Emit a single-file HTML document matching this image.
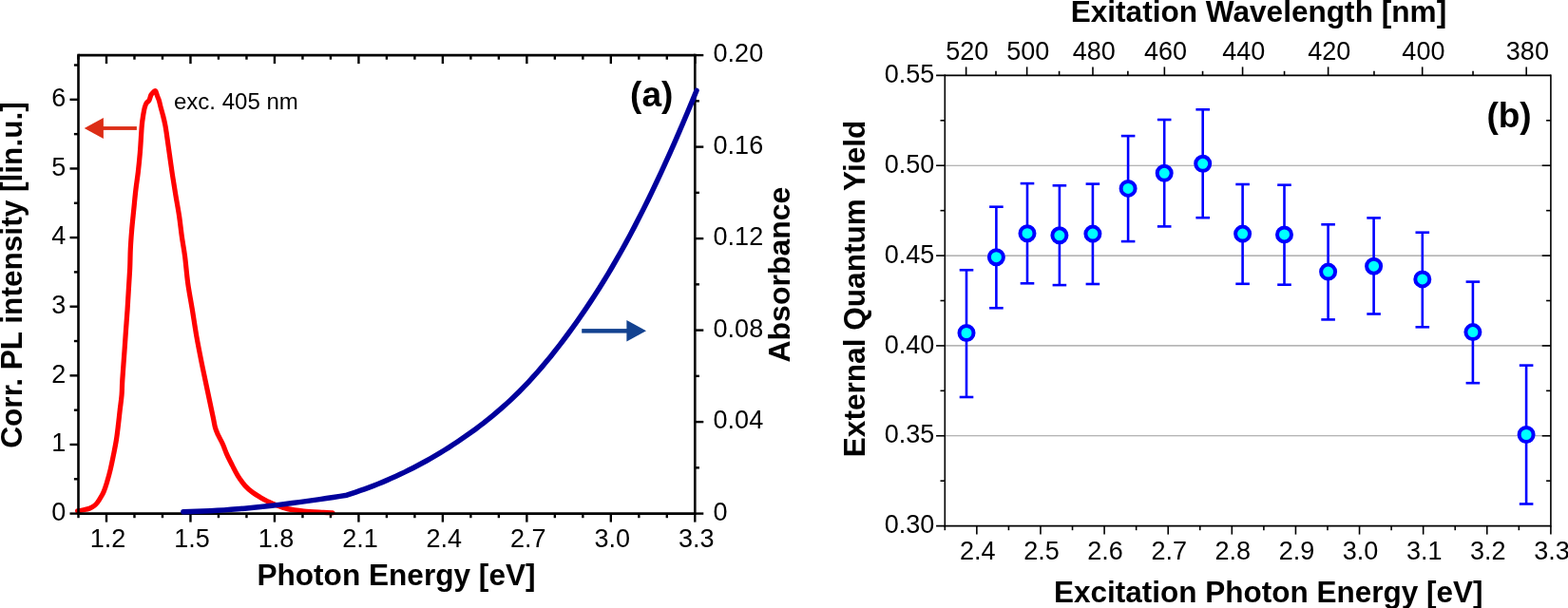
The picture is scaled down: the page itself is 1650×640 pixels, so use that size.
<!DOCTYPE html>
<html><head><meta charset="utf-8"><title>Figure</title>
<style>
html,body{margin:0;padding:0;background:#fff;width:1650px;height:640px;overflow:hidden}
svg{display:block}
text{font-family:"Liberation Sans", Arial, sans-serif;fill:#000}
</style></head><body>
<svg width="1650" height="640" viewBox="0 0 1650 640">
<rect width="1650" height="640" fill="#fff"/>
<path d="M81.6 537.9C82.63 537.72 85.72 537.25 87.8 536.8C89.88 536.35 92.23 535.92 94.1 535.2C95.97 534.48 97.6 533.53 99 532.5C100.4 531.47 101.33 530.5 102.5 529C103.67 527.5 104.87 525.47 106 523.5C107.13 521.53 108.2 519.87 109.3 517.2C110.4 514.53 111.43 511.41 112.6 507.5C113.77 503.59 115.13 498.65 116.3 493.75C117.47 488.85 118.57 483.31 119.6 478.1C120.63 472.89 121.68 467.7 122.5 462.5C123.32 457.3 123.88 452.11 124.5 446.9C125.12 441.69 125.65 436.47 126.25 431.25C126.85 426.03 127.67 420.81 128.1 415.6C128.53 410.39 128.32 407.7 128.8 400C129.28 392.3 130.38 378.15 131 369.4C131.62 360.65 131.98 354.8 132.5 347.5C133.02 340.2 133.62 332.89 134.1 325.6C134.58 318.31 134.97 311.03 135.4 303.75C135.83 296.47 136.38 288.86 136.7 281.9C137.02 274.94 136.97 268.72 137.3 262C137.63 255.28 138.13 248.39 138.7 241.6C139.27 234.81 140.02 228.03 140.7 221.25C141.38 214.47 141.97 207.68 142.75 200.9C143.53 194.12 144.62 187.37 145.4 180.6C146.18 173.83 146.87 166.73 147.4 160.3C147.93 153.87 148.28 146.73 148.6 142C148.92 137.27 148.98 135.15 149.3 131.9C149.62 128.65 150 125.63 150.5 122.5C151 119.37 151.68 115.45 152.3 113.1C152.92 110.75 153.42 109.65 154.2 108.4C154.98 107.15 156.22 107 157 105.6C157.78 104.2 158.19 101.4 158.9 100C159.61 98.6 160.47 97.9 161.25 97.2C162.03 96.5 162.89 95.18 163.6 95.8C164.31 96.42 164.88 99.27 165.5 100.9C166.12 102.53 166.68 103.57 167.3 105.6C167.92 107.63 168.46 110.28 169.2 113.1C169.94 115.92 170.97 119.37 171.75 122.5C172.53 125.63 173.33 128.98 173.9 131.9C174.47 134.82 174.47 135 175.2 140C175.93 145 177.27 154.61 178.3 161.9C179.33 169.19 180.3 176.47 181.4 183.75C182.5 191.03 183.7 198.31 184.9 205.6C186.1 212.89 187.52 220.2 188.6 227.5C189.68 234.8 190.4 242.32 191.4 249.4C192.4 256.48 193.55 261.88 194.6 270C195.65 278.12 196.4 288.73 197.7 298.1C199 307.48 200.87 316.87 202.4 326.25C203.93 335.63 205.25 345.02 206.9 354.4C208.55 363.77 210.42 373.13 212.3 382.5C214.18 391.87 216.22 401.18 218.2 410.6C220.18 420.02 222.8 432.35 224.2 439C225.6 445.65 225.7 447.33 226.6 450.5C227.5 453.67 228.3 455.17 229.6 458C230.9 460.83 232.88 464.1 234.4 467.5C235.93 470.9 237.12 474.75 238.75 478.4C240.38 482.05 242.27 485.67 244.2 489.4C246.12 493.13 247.98 497.12 250.3 500.8C252.62 504.48 255.5 508.57 258.1 511.5C260.7 514.43 263.29 516.42 265.9 518.4C268.51 520.38 271.13 521.85 273.75 523.4C276.37 524.95 278.99 526.39 281.6 527.7C284.21 529.01 285.92 529.93 289.4 531.25C292.88 532.57 297.45 534.48 302.5 535.6C307.55 536.73 313.4 537.38 319.7 538C326 538.62 335.25 539 340.3 539.3C345.35 539.6 348.38 539.72 350 539.8" fill="none" stroke="#ff0000" stroke-width="5.2" stroke-linejoin="round" stroke-linecap="round"/>
<line x1="82.5" y1="58.1" x2="731.3" y2="58.1" stroke="#000" stroke-width="2.6" stroke-linecap="butt"/>
<line x1="82.5" y1="540.6" x2="731.3" y2="540.6" stroke="#000" stroke-width="2.6" stroke-linecap="butt"/>
<line x1="82.5" y1="56.8" x2="82.5" y2="541.9" stroke="#000" stroke-width="2.6" stroke-linecap="butt"/>
<line x1="731.3" y1="56.8" x2="731.3" y2="541.9" stroke="#000" stroke-width="2.6" stroke-linecap="butt"/>
<line x1="82.5" y1="540.6" x2="82.5" y2="545.2" stroke="#000" stroke-width="2.4" stroke-linecap="butt"/>
<line x1="82.5" y1="58.1" x2="82.5" y2="62.7" stroke="#000" stroke-width="2.4" stroke-linecap="butt"/>
<line x1="111.99" y1="540.6" x2="111.99" y2="549.6" stroke="#000" stroke-width="2.4" stroke-linecap="butt"/>
<line x1="111.99" y1="58.1" x2="111.99" y2="67.1" stroke="#000" stroke-width="2.4" stroke-linecap="butt"/>
<line x1="141.48" y1="540.6" x2="141.48" y2="545.2" stroke="#000" stroke-width="2.4" stroke-linecap="butt"/>
<line x1="141.48" y1="58.1" x2="141.48" y2="62.7" stroke="#000" stroke-width="2.4" stroke-linecap="butt"/>
<line x1="170.97" y1="540.6" x2="170.97" y2="545.2" stroke="#000" stroke-width="2.4" stroke-linecap="butt"/>
<line x1="170.97" y1="58.1" x2="170.97" y2="62.7" stroke="#000" stroke-width="2.4" stroke-linecap="butt"/>
<line x1="200.46" y1="540.6" x2="200.46" y2="549.6" stroke="#000" stroke-width="2.4" stroke-linecap="butt"/>
<line x1="200.46" y1="58.1" x2="200.46" y2="67.1" stroke="#000" stroke-width="2.4" stroke-linecap="butt"/>
<line x1="229.95" y1="540.6" x2="229.95" y2="545.2" stroke="#000" stroke-width="2.4" stroke-linecap="butt"/>
<line x1="229.95" y1="58.1" x2="229.95" y2="62.7" stroke="#000" stroke-width="2.4" stroke-linecap="butt"/>
<line x1="259.45" y1="540.6" x2="259.45" y2="545.2" stroke="#000" stroke-width="2.4" stroke-linecap="butt"/>
<line x1="259.45" y1="58.1" x2="259.45" y2="62.7" stroke="#000" stroke-width="2.4" stroke-linecap="butt"/>
<line x1="288.94" y1="540.6" x2="288.94" y2="549.6" stroke="#000" stroke-width="2.4" stroke-linecap="butt"/>
<line x1="288.94" y1="58.1" x2="288.94" y2="67.1" stroke="#000" stroke-width="2.4" stroke-linecap="butt"/>
<line x1="318.43" y1="540.6" x2="318.43" y2="545.2" stroke="#000" stroke-width="2.4" stroke-linecap="butt"/>
<line x1="318.43" y1="58.1" x2="318.43" y2="62.7" stroke="#000" stroke-width="2.4" stroke-linecap="butt"/>
<line x1="347.92" y1="540.6" x2="347.92" y2="545.2" stroke="#000" stroke-width="2.4" stroke-linecap="butt"/>
<line x1="347.92" y1="58.1" x2="347.92" y2="62.7" stroke="#000" stroke-width="2.4" stroke-linecap="butt"/>
<line x1="377.41" y1="540.6" x2="377.41" y2="549.6" stroke="#000" stroke-width="2.4" stroke-linecap="butt"/>
<line x1="377.41" y1="58.1" x2="377.41" y2="67.1" stroke="#000" stroke-width="2.4" stroke-linecap="butt"/>
<line x1="406.9" y1="540.6" x2="406.9" y2="545.2" stroke="#000" stroke-width="2.4" stroke-linecap="butt"/>
<line x1="406.9" y1="58.1" x2="406.9" y2="62.7" stroke="#000" stroke-width="2.4" stroke-linecap="butt"/>
<line x1="436.39" y1="540.6" x2="436.39" y2="545.2" stroke="#000" stroke-width="2.4" stroke-linecap="butt"/>
<line x1="436.39" y1="58.1" x2="436.39" y2="62.7" stroke="#000" stroke-width="2.4" stroke-linecap="butt"/>
<line x1="465.88" y1="540.6" x2="465.88" y2="549.6" stroke="#000" stroke-width="2.4" stroke-linecap="butt"/>
<line x1="465.88" y1="58.1" x2="465.88" y2="67.1" stroke="#000" stroke-width="2.4" stroke-linecap="butt"/>
<line x1="495.37" y1="540.6" x2="495.37" y2="545.2" stroke="#000" stroke-width="2.4" stroke-linecap="butt"/>
<line x1="495.37" y1="58.1" x2="495.37" y2="62.7" stroke="#000" stroke-width="2.4" stroke-linecap="butt"/>
<line x1="524.86" y1="540.6" x2="524.86" y2="545.2" stroke="#000" stroke-width="2.4" stroke-linecap="butt"/>
<line x1="524.86" y1="58.1" x2="524.86" y2="62.7" stroke="#000" stroke-width="2.4" stroke-linecap="butt"/>
<line x1="554.35" y1="540.6" x2="554.35" y2="549.6" stroke="#000" stroke-width="2.4" stroke-linecap="butt"/>
<line x1="554.35" y1="58.1" x2="554.35" y2="67.1" stroke="#000" stroke-width="2.4" stroke-linecap="butt"/>
<line x1="583.85" y1="540.6" x2="583.85" y2="545.2" stroke="#000" stroke-width="2.4" stroke-linecap="butt"/>
<line x1="583.85" y1="58.1" x2="583.85" y2="62.7" stroke="#000" stroke-width="2.4" stroke-linecap="butt"/>
<line x1="613.34" y1="540.6" x2="613.34" y2="545.2" stroke="#000" stroke-width="2.4" stroke-linecap="butt"/>
<line x1="613.34" y1="58.1" x2="613.34" y2="62.7" stroke="#000" stroke-width="2.4" stroke-linecap="butt"/>
<line x1="642.83" y1="540.6" x2="642.83" y2="549.6" stroke="#000" stroke-width="2.4" stroke-linecap="butt"/>
<line x1="642.83" y1="58.1" x2="642.83" y2="67.1" stroke="#000" stroke-width="2.4" stroke-linecap="butt"/>
<line x1="672.32" y1="540.6" x2="672.32" y2="545.2" stroke="#000" stroke-width="2.4" stroke-linecap="butt"/>
<line x1="672.32" y1="58.1" x2="672.32" y2="62.7" stroke="#000" stroke-width="2.4" stroke-linecap="butt"/>
<line x1="701.81" y1="540.6" x2="701.81" y2="545.2" stroke="#000" stroke-width="2.4" stroke-linecap="butt"/>
<line x1="701.81" y1="58.1" x2="701.81" y2="62.7" stroke="#000" stroke-width="2.4" stroke-linecap="butt"/>
<line x1="731.3" y1="540.6" x2="731.3" y2="549.6" stroke="#000" stroke-width="2.4" stroke-linecap="butt"/>
<line x1="731.3" y1="58.1" x2="731.3" y2="67.1" stroke="#000" stroke-width="2.4" stroke-linecap="butt"/>
<line x1="73.5" y1="540.6" x2="82.5" y2="540.6" stroke="#000" stroke-width="2.4" stroke-linecap="butt"/>
<line x1="77.9" y1="504.29" x2="82.5" y2="504.29" stroke="#000" stroke-width="2.4" stroke-linecap="butt"/>
<line x1="73.5" y1="467.97" x2="82.5" y2="467.97" stroke="#000" stroke-width="2.4" stroke-linecap="butt"/>
<line x1="77.9" y1="431.66" x2="82.5" y2="431.66" stroke="#000" stroke-width="2.4" stroke-linecap="butt"/>
<line x1="73.5" y1="395.34" x2="82.5" y2="395.34" stroke="#000" stroke-width="2.4" stroke-linecap="butt"/>
<line x1="77.9" y1="359.03" x2="82.5" y2="359.03" stroke="#000" stroke-width="2.4" stroke-linecap="butt"/>
<line x1="73.5" y1="322.71" x2="82.5" y2="322.71" stroke="#000" stroke-width="2.4" stroke-linecap="butt"/>
<line x1="77.9" y1="286.4" x2="82.5" y2="286.4" stroke="#000" stroke-width="2.4" stroke-linecap="butt"/>
<line x1="73.5" y1="250.08" x2="82.5" y2="250.08" stroke="#000" stroke-width="2.4" stroke-linecap="butt"/>
<line x1="77.9" y1="213.77" x2="82.5" y2="213.77" stroke="#000" stroke-width="2.4" stroke-linecap="butt"/>
<line x1="73.5" y1="177.45" x2="82.5" y2="177.45" stroke="#000" stroke-width="2.4" stroke-linecap="butt"/>
<line x1="77.9" y1="141.14" x2="82.5" y2="141.14" stroke="#000" stroke-width="2.4" stroke-linecap="butt"/>
<line x1="73.5" y1="104.82" x2="82.5" y2="104.82" stroke="#000" stroke-width="2.4" stroke-linecap="butt"/>
<line x1="77.9" y1="68.51" x2="82.5" y2="68.51" stroke="#000" stroke-width="2.4" stroke-linecap="butt"/>
<line x1="731.3" y1="540.6" x2="740.3" y2="540.6" stroke="#000" stroke-width="2.4" stroke-linecap="butt"/>
<line x1="731.3" y1="492.35" x2="735.9" y2="492.35" stroke="#000" stroke-width="2.4" stroke-linecap="butt"/>
<line x1="731.3" y1="444.1" x2="740.3" y2="444.1" stroke="#000" stroke-width="2.4" stroke-linecap="butt"/>
<line x1="731.3" y1="395.85" x2="735.9" y2="395.85" stroke="#000" stroke-width="2.4" stroke-linecap="butt"/>
<line x1="731.3" y1="347.6" x2="740.3" y2="347.6" stroke="#000" stroke-width="2.4" stroke-linecap="butt"/>
<line x1="731.3" y1="299.35" x2="735.9" y2="299.35" stroke="#000" stroke-width="2.4" stroke-linecap="butt"/>
<line x1="731.3" y1="251.1" x2="740.3" y2="251.1" stroke="#000" stroke-width="2.4" stroke-linecap="butt"/>
<line x1="731.3" y1="202.85" x2="735.9" y2="202.85" stroke="#000" stroke-width="2.4" stroke-linecap="butt"/>
<line x1="731.3" y1="154.6" x2="740.3" y2="154.6" stroke="#000" stroke-width="2.4" stroke-linecap="butt"/>
<line x1="731.3" y1="106.35" x2="735.9" y2="106.35" stroke="#000" stroke-width="2.4" stroke-linecap="butt"/>
<line x1="731.3" y1="58.1" x2="740.3" y2="58.1" stroke="#000" stroke-width="2.4" stroke-linecap="butt"/>
<path d="M192.9 538.7L200.07 538.56L207.24 538.34L214.41 538.07L221.58 537.73L228.75 537.33L235.93 536.87L243.1 536.36L250.27 535.79L257.44 535.17L264.61 534.5L271.78 533.79L278.95 533.03L286.12 532.22L293.29 531.38L300.46 530.5L307.63 529.58L314.8 528.63L321.98 527.65L329.15 526.64L336.32 525.6L343.49 524.54L350.66 523.45L357.83 522.35L365 521.22L369.66 519.6L374.32 518.07L378.97 516.47L383.63 514.82L388.29 513.1L392.95 511.33L397.61 509.49L402.27 507.59L406.92 505.62L411.58 503.59L416.24 501.5L420.9 499.34L425.56 497.12L430.22 494.82L434.87 492.46L439.53 490.04L444.19 487.54L448.85 484.97L453.51 482.33L458.16 479.62L462.82 476.84L467.48 473.99L472.14 471.06L476.8 468.06L481.46 464.99L486.11 461.84L490.77 458.61L495.43 455.3L500.09 451.91L504.75 448.42L509.41 444.84L514.06 441.15L518.72 437.36L523.38 433.45L528.04 429.41L532.7 425.25L537.35 420.96L542.01 416.52L546.67 411.93L551.33 407.18L555.99 402.27L560.65 397.2L565.3 391.98L569.96 386.6L574.62 381.07L579.28 375.39L583.94 369.57L588.59 363.6L593.25 357.5L597.91 351.25L602.57 344.86L607.23 338.34L611.89 331.67L616.54 324.85L621.2 317.87L625.86 310.74L630.52 303.44L635.18 295.97L639.84 288.32L644.49 280.49L649.15 272.47L653.81 264.25L658.47 255.83L663.13 247.2L667.78 238.38L672.44 229.35L677.1 220.12L681.76 210.7L686.42 201.1L691.08 191.3L695.73 181.32L700.39 171.16L705.05 160.82L709.71 150.31L714.37 139.63L719.03 128.77L723.68 117.75L728.34 106.57L733 95.23" fill="none" stroke="#00009c" stroke-width="5.5" stroke-linejoin="round" stroke-linecap="round"/>
<polygon points="88.7,135 108.9,123.9 108.9,146.1" fill="#dc2d16"/>
<rect x="108" y="133.1" width="35.9" height="3.8" fill="#dc2d16"/>
<polygon points="680,348.3 659.4,337 659.4,359.6" fill="#134290"/>
<rect x="612.2" y="346.1" width="48" height="4.5" fill="#134290"/>
<text x="69.4" y="548" font-size="27" text-anchor="end">0</text>
<text x="69.4" y="475.37" font-size="27" text-anchor="end">1</text>
<text x="69.4" y="402.74" font-size="27" text-anchor="end">2</text>
<text x="69.4" y="330.11" font-size="27" text-anchor="end">3</text>
<text x="69.4" y="257.48" font-size="27" text-anchor="end">4</text>
<text x="69.4" y="184.85" font-size="27" text-anchor="end">5</text>
<text x="69.4" y="112.22" font-size="27" text-anchor="end">6</text>
<text x="113.49" y="576" font-size="27" text-anchor="middle">1.2</text>
<text x="201.96" y="576" font-size="27" text-anchor="middle">1.5</text>
<text x="290.44" y="576" font-size="27" text-anchor="middle">1.8</text>
<text x="378.91" y="576" font-size="27" text-anchor="middle">2.1</text>
<text x="467.38" y="576" font-size="27" text-anchor="middle">2.4</text>
<text x="555.85" y="576" font-size="27" text-anchor="middle">2.7</text>
<text x="644.33" y="576" font-size="27" text-anchor="middle">3.0</text>
<text x="732.8" y="576" font-size="27" text-anchor="middle">3.3</text>
<text x="750.6" y="547.7" font-size="27" text-anchor="start">0</text>
<text x="750.6" y="451.2" font-size="27" text-anchor="start">0.04</text>
<text x="750.6" y="354.7" font-size="27" text-anchor="start">0.08</text>
<text x="750.6" y="258.2" font-size="27" text-anchor="start">0.12</text>
<text x="750.6" y="161.7" font-size="27" text-anchor="start">0.16</text>
<text x="750.6" y="65.2" font-size="27" text-anchor="start">0.20</text>
<text x="417" y="616.1" font-size="31.6" text-anchor="middle" font-weight="bold">Photon Energy [eV]</text>
<text x="23.4" y="289.5" font-size="31.6" text-anchor="middle" font-weight="bold" transform="rotate(-90 23.4 289.5)">Corr. PL intensity [lin.u.]</text>
<text x="831.5" y="289.1" font-size="32" text-anchor="middle" font-weight="bold" transform="rotate(-90 831.5 289.1)">Absorbance</text>
<text x="685.7" y="112" font-size="37" text-anchor="middle" font-weight="bold">(a)</text>
<text x="183" y="114.5" font-size="24" text-anchor="start">exc. 405 nm</text>
<line x1="994.3" y1="458.76" x2="1631.9" y2="458.76" stroke="#9c9c9c" stroke-width="1.2" stroke-linecap="butt"/>
<line x1="994.3" y1="363.92" x2="1631.9" y2="363.92" stroke="#9c9c9c" stroke-width="1.2" stroke-linecap="butt"/>
<line x1="994.3" y1="269.08" x2="1631.9" y2="269.08" stroke="#9c9c9c" stroke-width="1.2" stroke-linecap="butt"/>
<line x1="994.3" y1="174.24" x2="1631.9" y2="174.24" stroke="#9c9c9c" stroke-width="1.2" stroke-linecap="butt"/>
<line x1="985.1" y1="79.4" x2="1631.9" y2="79.4" stroke="#000" stroke-width="1.6" stroke-linecap="butt"/>
<line x1="985.1" y1="553.6" x2="1631.9" y2="553.6" stroke="#000" stroke-width="1.6" stroke-linecap="butt"/>
<line x1="994.3" y1="78.6" x2="994.3" y2="554.4" stroke="#000" stroke-width="1.6" stroke-linecap="butt"/>
<line x1="1631.9" y1="78.6" x2="1631.9" y2="554.4" stroke="#000" stroke-width="1.6" stroke-linecap="butt"/>
<line x1="994.3" y1="553.6" x2="994.3" y2="558.2" stroke="#000" stroke-width="1.6" stroke-linecap="butt"/>
<line x1="1027.86" y1="553.6" x2="1027.86" y2="562.6" stroke="#000" stroke-width="1.6" stroke-linecap="butt"/>
<line x1="1061.42" y1="553.6" x2="1061.42" y2="558.2" stroke="#000" stroke-width="1.6" stroke-linecap="butt"/>
<line x1="1094.97" y1="553.6" x2="1094.97" y2="562.6" stroke="#000" stroke-width="1.6" stroke-linecap="butt"/>
<line x1="1128.53" y1="553.6" x2="1128.53" y2="558.2" stroke="#000" stroke-width="1.6" stroke-linecap="butt"/>
<line x1="1162.09" y1="553.6" x2="1162.09" y2="562.6" stroke="#000" stroke-width="1.6" stroke-linecap="butt"/>
<line x1="1195.65" y1="553.6" x2="1195.65" y2="558.2" stroke="#000" stroke-width="1.6" stroke-linecap="butt"/>
<line x1="1229.21" y1="553.6" x2="1229.21" y2="562.6" stroke="#000" stroke-width="1.6" stroke-linecap="butt"/>
<line x1="1262.76" y1="553.6" x2="1262.76" y2="558.2" stroke="#000" stroke-width="1.6" stroke-linecap="butt"/>
<line x1="1296.32" y1="553.6" x2="1296.32" y2="562.6" stroke="#000" stroke-width="1.6" stroke-linecap="butt"/>
<line x1="1329.88" y1="553.6" x2="1329.88" y2="558.2" stroke="#000" stroke-width="1.6" stroke-linecap="butt"/>
<line x1="1363.44" y1="553.6" x2="1363.44" y2="562.6" stroke="#000" stroke-width="1.6" stroke-linecap="butt"/>
<line x1="1396.99" y1="553.6" x2="1396.99" y2="558.2" stroke="#000" stroke-width="1.6" stroke-linecap="butt"/>
<line x1="1430.55" y1="553.6" x2="1430.55" y2="562.6" stroke="#000" stroke-width="1.6" stroke-linecap="butt"/>
<line x1="1464.11" y1="553.6" x2="1464.11" y2="558.2" stroke="#000" stroke-width="1.6" stroke-linecap="butt"/>
<line x1="1497.67" y1="553.6" x2="1497.67" y2="562.6" stroke="#000" stroke-width="1.6" stroke-linecap="butt"/>
<line x1="1531.23" y1="553.6" x2="1531.23" y2="558.2" stroke="#000" stroke-width="1.6" stroke-linecap="butt"/>
<line x1="1564.78" y1="553.6" x2="1564.78" y2="562.6" stroke="#000" stroke-width="1.6" stroke-linecap="butt"/>
<line x1="1598.34" y1="553.6" x2="1598.34" y2="558.2" stroke="#000" stroke-width="1.6" stroke-linecap="butt"/>
<line x1="1631.9" y1="553.6" x2="1631.9" y2="562.6" stroke="#000" stroke-width="1.6" stroke-linecap="butt"/>
<line x1="989.5" y1="506.18" x2="994.3" y2="506.18" stroke="#000" stroke-width="1.6" stroke-linecap="butt"/>
<line x1="1627.1" y1="506.18" x2="1631.9" y2="506.18" stroke="#000" stroke-width="1.6" stroke-linecap="butt"/>
<line x1="985.1" y1="458.76" x2="994.3" y2="458.76" stroke="#000" stroke-width="1.6" stroke-linecap="butt"/>
<line x1="1622.7" y1="458.76" x2="1631.9" y2="458.76" stroke="#000" stroke-width="1.6" stroke-linecap="butt"/>
<line x1="989.5" y1="411.34" x2="994.3" y2="411.34" stroke="#000" stroke-width="1.6" stroke-linecap="butt"/>
<line x1="1627.1" y1="411.34" x2="1631.9" y2="411.34" stroke="#000" stroke-width="1.6" stroke-linecap="butt"/>
<line x1="985.1" y1="363.92" x2="994.3" y2="363.92" stroke="#000" stroke-width="1.6" stroke-linecap="butt"/>
<line x1="1622.7" y1="363.92" x2="1631.9" y2="363.92" stroke="#000" stroke-width="1.6" stroke-linecap="butt"/>
<line x1="989.5" y1="316.5" x2="994.3" y2="316.5" stroke="#000" stroke-width="1.6" stroke-linecap="butt"/>
<line x1="1627.1" y1="316.5" x2="1631.9" y2="316.5" stroke="#000" stroke-width="1.6" stroke-linecap="butt"/>
<line x1="985.1" y1="269.08" x2="994.3" y2="269.08" stroke="#000" stroke-width="1.6" stroke-linecap="butt"/>
<line x1="1622.7" y1="269.08" x2="1631.9" y2="269.08" stroke="#000" stroke-width="1.6" stroke-linecap="butt"/>
<line x1="989.5" y1="221.66" x2="994.3" y2="221.66" stroke="#000" stroke-width="1.6" stroke-linecap="butt"/>
<line x1="1627.1" y1="221.66" x2="1631.9" y2="221.66" stroke="#000" stroke-width="1.6" stroke-linecap="butt"/>
<line x1="985.1" y1="174.24" x2="994.3" y2="174.24" stroke="#000" stroke-width="1.6" stroke-linecap="butt"/>
<line x1="1622.7" y1="174.24" x2="1631.9" y2="174.24" stroke="#000" stroke-width="1.6" stroke-linecap="butt"/>
<line x1="989.5" y1="126.82" x2="994.3" y2="126.82" stroke="#000" stroke-width="1.6" stroke-linecap="butt"/>
<line x1="1627.1" y1="126.82" x2="1631.9" y2="126.82" stroke="#000" stroke-width="1.6" stroke-linecap="butt"/>
<line x1="1016.63" y1="70.4" x2="1016.63" y2="79.4" stroke="#000" stroke-width="1.6" stroke-linecap="butt"/>
<line x1="1048" y1="74.8" x2="1048" y2="79.4" stroke="#000" stroke-width="1.6" stroke-linecap="butt"/>
<line x1="1080.64" y1="70.4" x2="1080.64" y2="79.4" stroke="#000" stroke-width="1.6" stroke-linecap="butt"/>
<line x1="1114.6" y1="74.8" x2="1114.6" y2="79.4" stroke="#000" stroke-width="1.6" stroke-linecap="butt"/>
<line x1="1149.98" y1="70.4" x2="1149.98" y2="79.4" stroke="#000" stroke-width="1.6" stroke-linecap="butt"/>
<line x1="1186.86" y1="74.8" x2="1186.86" y2="79.4" stroke="#000" stroke-width="1.6" stroke-linecap="butt"/>
<line x1="1225.35" y1="70.4" x2="1225.35" y2="79.4" stroke="#000" stroke-width="1.6" stroke-linecap="butt"/>
<line x1="1265.55" y1="74.8" x2="1265.55" y2="79.4" stroke="#000" stroke-width="1.6" stroke-linecap="butt"/>
<line x1="1307.58" y1="70.4" x2="1307.58" y2="79.4" stroke="#000" stroke-width="1.6" stroke-linecap="butt"/>
<line x1="1351.56" y1="74.8" x2="1351.56" y2="79.4" stroke="#000" stroke-width="1.6" stroke-linecap="butt"/>
<line x1="1397.64" y1="70.4" x2="1397.64" y2="79.4" stroke="#000" stroke-width="1.6" stroke-linecap="butt"/>
<line x1="1445.96" y1="74.8" x2="1445.96" y2="79.4" stroke="#000" stroke-width="1.6" stroke-linecap="butt"/>
<line x1="1496.7" y1="70.4" x2="1496.7" y2="79.4" stroke="#000" stroke-width="1.6" stroke-linecap="butt"/>
<line x1="1550.04" y1="74.8" x2="1550.04" y2="79.4" stroke="#000" stroke-width="1.6" stroke-linecap="butt"/>
<line x1="1606.19" y1="70.4" x2="1606.19" y2="79.4" stroke="#000" stroke-width="1.6" stroke-linecap="butt"/>
<line x1="1017" y1="284.25" x2="1017" y2="418" stroke="#0000ff" stroke-width="2.6" stroke-linecap="butt"/>
<line x1="1009.7" y1="284.25" x2="1024.3" y2="284.25" stroke="#0000ff" stroke-width="2.6" stroke-linecap="butt"/>
<line x1="1009.7" y1="418" x2="1024.3" y2="418" stroke="#0000ff" stroke-width="2.6" stroke-linecap="butt"/>
<line x1="1048.4" y1="217.7" x2="1048.4" y2="324.25" stroke="#0000ff" stroke-width="2.6" stroke-linecap="butt"/>
<line x1="1041.1" y1="217.7" x2="1055.7" y2="217.7" stroke="#0000ff" stroke-width="2.6" stroke-linecap="butt"/>
<line x1="1041.1" y1="324.25" x2="1055.7" y2="324.25" stroke="#0000ff" stroke-width="2.6" stroke-linecap="butt"/>
<line x1="1081" y1="193.1" x2="1081" y2="298.3" stroke="#0000ff" stroke-width="2.6" stroke-linecap="butt"/>
<line x1="1073.7" y1="193.1" x2="1088.3" y2="193.1" stroke="#0000ff" stroke-width="2.6" stroke-linecap="butt"/>
<line x1="1073.7" y1="298.3" x2="1088.3" y2="298.3" stroke="#0000ff" stroke-width="2.6" stroke-linecap="butt"/>
<line x1="1114.9" y1="195.3" x2="1114.9" y2="300.1" stroke="#0000ff" stroke-width="2.6" stroke-linecap="butt"/>
<line x1="1107.6" y1="195.3" x2="1122.2" y2="195.3" stroke="#0000ff" stroke-width="2.6" stroke-linecap="butt"/>
<line x1="1107.6" y1="300.1" x2="1122.2" y2="300.1" stroke="#0000ff" stroke-width="2.6" stroke-linecap="butt"/>
<line x1="1149.9" y1="193.6" x2="1149.9" y2="299" stroke="#0000ff" stroke-width="2.6" stroke-linecap="butt"/>
<line x1="1142.6" y1="193.6" x2="1157.2" y2="193.6" stroke="#0000ff" stroke-width="2.6" stroke-linecap="butt"/>
<line x1="1142.6" y1="299" x2="1157.2" y2="299" stroke="#0000ff" stroke-width="2.6" stroke-linecap="butt"/>
<line x1="1187.1" y1="143.1" x2="1187.1" y2="254.1" stroke="#0000ff" stroke-width="2.6" stroke-linecap="butt"/>
<line x1="1179.8" y1="143.1" x2="1194.4" y2="143.1" stroke="#0000ff" stroke-width="2.6" stroke-linecap="butt"/>
<line x1="1179.8" y1="254.1" x2="1194.4" y2="254.1" stroke="#0000ff" stroke-width="2.6" stroke-linecap="butt"/>
<line x1="1225.2" y1="126" x2="1225.2" y2="238.4" stroke="#0000ff" stroke-width="2.6" stroke-linecap="butt"/>
<line x1="1217.9" y1="126" x2="1232.5" y2="126" stroke="#0000ff" stroke-width="2.6" stroke-linecap="butt"/>
<line x1="1217.9" y1="238.4" x2="1232.5" y2="238.4" stroke="#0000ff" stroke-width="2.6" stroke-linecap="butt"/>
<line x1="1265.7" y1="115.3" x2="1265.7" y2="229.2" stroke="#0000ff" stroke-width="2.6" stroke-linecap="butt"/>
<line x1="1258.4" y1="115.3" x2="1273" y2="115.3" stroke="#0000ff" stroke-width="2.6" stroke-linecap="butt"/>
<line x1="1258.4" y1="229.2" x2="1273" y2="229.2" stroke="#0000ff" stroke-width="2.6" stroke-linecap="butt"/>
<line x1="1307.6" y1="194" x2="1307.6" y2="298.8" stroke="#0000ff" stroke-width="2.6" stroke-linecap="butt"/>
<line x1="1300.3" y1="194" x2="1314.9" y2="194" stroke="#0000ff" stroke-width="2.6" stroke-linecap="butt"/>
<line x1="1300.3" y1="298.8" x2="1314.9" y2="298.8" stroke="#0000ff" stroke-width="2.6" stroke-linecap="butt"/>
<line x1="1351.5" y1="194.7" x2="1351.5" y2="299.7" stroke="#0000ff" stroke-width="2.6" stroke-linecap="butt"/>
<line x1="1344.2" y1="194.7" x2="1358.8" y2="194.7" stroke="#0000ff" stroke-width="2.6" stroke-linecap="butt"/>
<line x1="1344.2" y1="299.7" x2="1358.8" y2="299.7" stroke="#0000ff" stroke-width="2.6" stroke-linecap="butt"/>
<line x1="1397.6" y1="236.3" x2="1397.6" y2="336.4" stroke="#0000ff" stroke-width="2.6" stroke-linecap="butt"/>
<line x1="1390.3" y1="236.3" x2="1404.9" y2="236.3" stroke="#0000ff" stroke-width="2.6" stroke-linecap="butt"/>
<line x1="1390.3" y1="336.4" x2="1404.9" y2="336.4" stroke="#0000ff" stroke-width="2.6" stroke-linecap="butt"/>
<line x1="1445.6" y1="229.4" x2="1445.6" y2="330.5" stroke="#0000ff" stroke-width="2.6" stroke-linecap="butt"/>
<line x1="1438.3" y1="229.4" x2="1452.9" y2="229.4" stroke="#0000ff" stroke-width="2.6" stroke-linecap="butt"/>
<line x1="1438.3" y1="330.5" x2="1452.9" y2="330.5" stroke="#0000ff" stroke-width="2.6" stroke-linecap="butt"/>
<line x1="1496.8" y1="244.7" x2="1496.8" y2="344.3" stroke="#0000ff" stroke-width="2.6" stroke-linecap="butt"/>
<line x1="1489.5" y1="244.7" x2="1504.1" y2="244.7" stroke="#0000ff" stroke-width="2.6" stroke-linecap="butt"/>
<line x1="1489.5" y1="344.3" x2="1504.1" y2="344.3" stroke="#0000ff" stroke-width="2.6" stroke-linecap="butt"/>
<line x1="1549.9" y1="296.6" x2="1549.9" y2="403.2" stroke="#0000ff" stroke-width="2.6" stroke-linecap="butt"/>
<line x1="1542.6" y1="296.6" x2="1557.2" y2="296.6" stroke="#0000ff" stroke-width="2.6" stroke-linecap="butt"/>
<line x1="1542.6" y1="403.2" x2="1557.2" y2="403.2" stroke="#0000ff" stroke-width="2.6" stroke-linecap="butt"/>
<line x1="1606.1" y1="384.6" x2="1606.1" y2="530.5" stroke="#0000ff" stroke-width="2.6" stroke-linecap="butt"/>
<line x1="1598.8" y1="384.6" x2="1613.4" y2="384.6" stroke="#0000ff" stroke-width="2.6" stroke-linecap="butt"/>
<line x1="1598.8" y1="530.5" x2="1613.4" y2="530.5" stroke="#0000ff" stroke-width="2.6" stroke-linecap="butt"/>
<circle cx="1017" cy="350.5" r="7.5" fill="#00ffff" stroke="#0000ff" stroke-width="4"/>
<circle cx="1048.4" cy="270.7" r="7.5" fill="#00ffff" stroke="#0000ff" stroke-width="4"/>
<circle cx="1081" cy="245.7" r="7.5" fill="#00ffff" stroke="#0000ff" stroke-width="4"/>
<circle cx="1114.9" cy="247.8" r="7.5" fill="#00ffff" stroke="#0000ff" stroke-width="4"/>
<circle cx="1149.9" cy="246.1" r="7.5" fill="#00ffff" stroke="#0000ff" stroke-width="4"/>
<circle cx="1187.1" cy="198.4" r="7.5" fill="#00ffff" stroke="#0000ff" stroke-width="4"/>
<circle cx="1225.2" cy="182.3" r="7.5" fill="#00ffff" stroke="#0000ff" stroke-width="4"/>
<circle cx="1265.7" cy="172.3" r="7.5" fill="#00ffff" stroke="#0000ff" stroke-width="4"/>
<circle cx="1307.6" cy="246.1" r="7.5" fill="#00ffff" stroke="#0000ff" stroke-width="4"/>
<circle cx="1351.5" cy="246.9" r="7.5" fill="#00ffff" stroke="#0000ff" stroke-width="4"/>
<circle cx="1397.6" cy="286.1" r="7.5" fill="#00ffff" stroke="#0000ff" stroke-width="4"/>
<circle cx="1445.6" cy="280.2" r="7.5" fill="#00ffff" stroke="#0000ff" stroke-width="4"/>
<circle cx="1496.8" cy="293.9" r="7.5" fill="#00ffff" stroke="#0000ff" stroke-width="4"/>
<circle cx="1549.9" cy="349.6" r="7.5" fill="#00ffff" stroke="#0000ff" stroke-width="4"/>
<circle cx="1606.1" cy="457.5" r="7.5" fill="#00ffff" stroke="#0000ff" stroke-width="4"/>
<text x="983.2" y="561.3" font-size="27" text-anchor="end">0.30</text>
<text x="983.2" y="466.46" font-size="27" text-anchor="end">0.35</text>
<text x="983.2" y="371.62" font-size="27" text-anchor="end">0.40</text>
<text x="983.2" y="276.78" font-size="27" text-anchor="end">0.45</text>
<text x="983.2" y="181.94" font-size="27" text-anchor="end">0.50</text>
<text x="983.2" y="87.1" font-size="27" text-anchor="end">0.55</text>
<text x="1028.86" y="588.6" font-size="27" text-anchor="middle">2.4</text>
<text x="1095.97" y="588.6" font-size="27" text-anchor="middle">2.5</text>
<text x="1163.09" y="588.6" font-size="27" text-anchor="middle">2.6</text>
<text x="1230.21" y="588.6" font-size="27" text-anchor="middle">2.7</text>
<text x="1297.32" y="588.6" font-size="27" text-anchor="middle">2.8</text>
<text x="1364.44" y="588.6" font-size="27" text-anchor="middle">2.9</text>
<text x="1431.55" y="588.6" font-size="27" text-anchor="middle">3.0</text>
<text x="1498.67" y="588.6" font-size="27" text-anchor="middle">3.1</text>
<text x="1565.78" y="588.6" font-size="27" text-anchor="middle">3.2</text>
<text x="1632.9" y="588.6" font-size="27" text-anchor="middle">3.3</text>
<text x="1017.83" y="63.4" font-size="27" text-anchor="middle">520</text>
<text x="1081.84" y="63.4" font-size="27" text-anchor="middle">500</text>
<text x="1151.18" y="63.4" font-size="27" text-anchor="middle">480</text>
<text x="1226.55" y="63.4" font-size="27" text-anchor="middle">460</text>
<text x="1308.78" y="63.4" font-size="27" text-anchor="middle">440</text>
<text x="1398.84" y="63.4" font-size="27" text-anchor="middle">420</text>
<text x="1497.9" y="63.4" font-size="27" text-anchor="middle">400</text>
<text x="1607.39" y="63.4" font-size="27" text-anchor="middle">380</text>
<text x="1324.4" y="22.7" font-size="31.6" text-anchor="middle" font-weight="bold">Exitation Wavelength [nm]</text>
<text x="1334.7" y="633.8" font-size="31.5" text-anchor="middle" font-weight="bold">Excitation Photon Energy [eV]</text>
<text x="910.2" y="303.9" font-size="31.6" text-anchor="middle" font-weight="bold" transform="rotate(-90 910.2 303.9)">External Quantum Yield</text>
<text x="1588" y="133.6" font-size="37" text-anchor="middle" font-weight="bold">(b)</text>
</svg>
</body></html>
